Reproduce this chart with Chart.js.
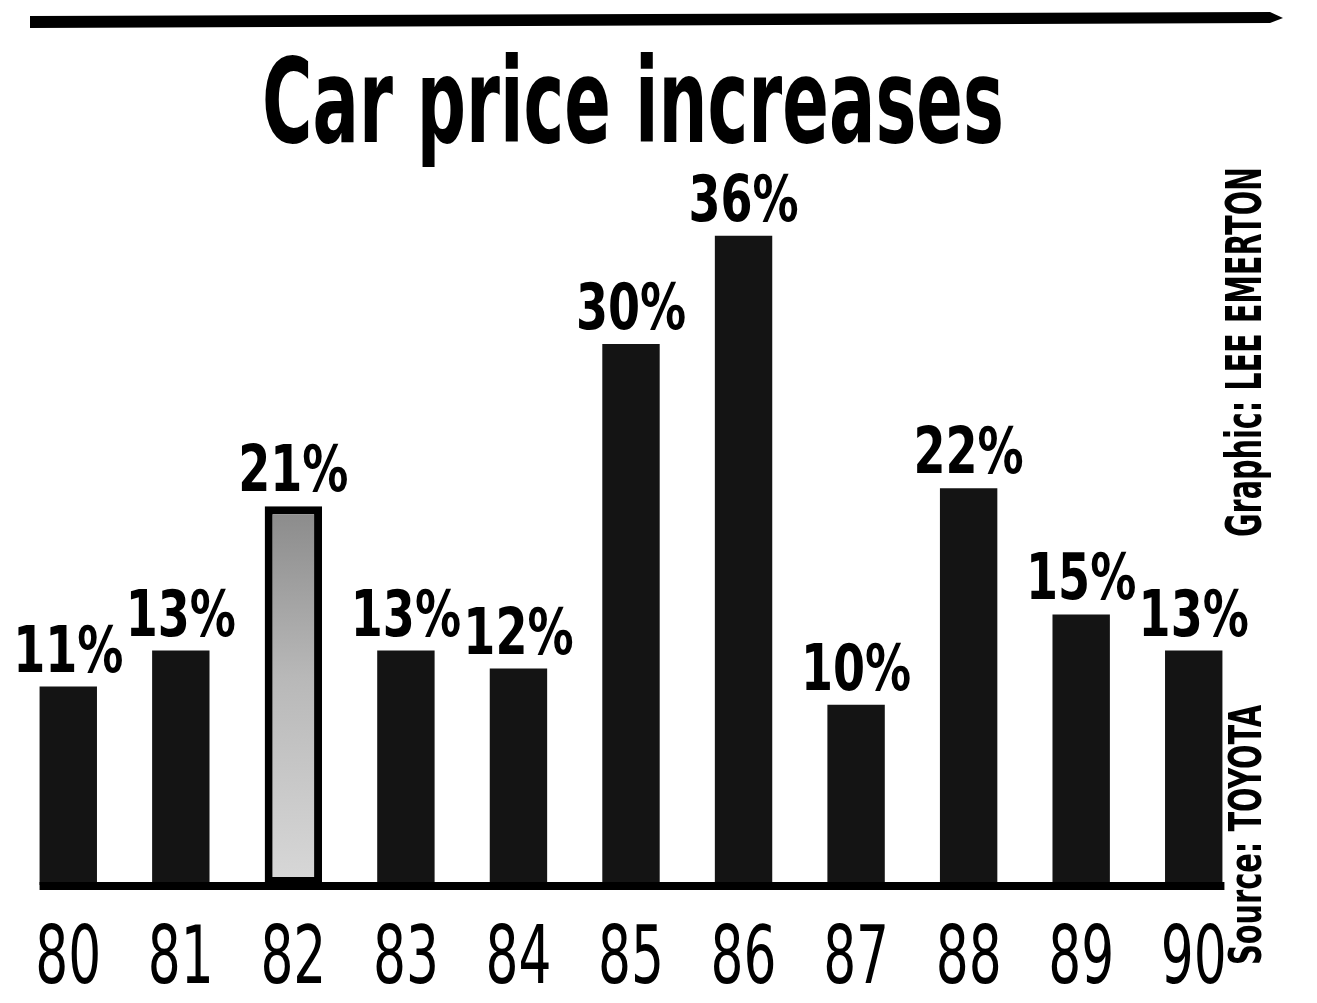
<!DOCTYPE html>
<html>
<head>
<meta charset="utf-8">
<title>Car price increases</title>
<script src="https://cdn.jsdelivr.net/npm/chart.js@4.4.1/dist/chart.umd.min.js"></script>
<style>
  html, body { margin: 0; padding: 0; background: #fff; }
  #wrap { width: 1317px; height: 1003px; position: relative; }
</style>
</head>
<body>
<div id="wrap"><canvas id="carChart"></canvas></div>
<script>
const years = ['80', '81', '82', '83', '84', '85', '86', '87', '88', '89', '90'];
const increases = [11, 13, 21, 13, 12, 30, 36, 10, 22, 15, 13];
const valueLabels = ['11%', '13%', '21%', '13%', '12%', '30%', '36%', '10%', '22%', '15%', '13%'];
const titleText = 'Car price increases';
const creditText = 'Graphic: LEE EMERTON';
const sourceText = 'Source: TOYOTA';

const NARROW = '"DejaVu Sans Condensed", "Liberation Sans Narrow", sans-serif';

// draws text squeezed horizontally by a factor (newsprint condensed type)
function squeeze(ctx, text, x, y, sx) {
    ctx.save();
    ctx.translate(x, y);
    ctx.scale(sx, 1);
    ctx.fillText(text, 0, 0);
    ctx.restore();
}

function fitText(ctx, text, x, y, width) {
    squeeze(ctx, text, x, y, width / ctx.measureText(text).width);
}

const decor = {
    id: 'decor',
    afterDraw(chart) {
        const ctx = chart.ctx;
        const bars = chart.getDatasetMeta(0).data;
        const xScale = chart.scales.x;
        const yScale = chart.scales.y;
        ctx.save();
        ctx.fillStyle = '#000';
        ctx.strokeStyle = '#000';

        // rule across the top
        ctx.beginPath();
        ctx.moveTo(30, 16);
        ctx.lineTo(1270, 12);
        ctx.lineTo(1283, 18);
        ctx.lineTo(1270, 23);
        ctx.lineTo(30, 28);
        ctx.closePath();
        ctx.fill();

        // title
        ctx.font = 'bold 117px ' + NARROW;
        ctx.textAlign = 'left';
        ctx.textBaseline = 'alphabetic';
        fitText(ctx, titleText, 262, 142, 742);

        // baseline under the bars
        const first = bars[0], last = bars[bars.length - 1];
        const y0 = yScale.getPixelForValue(0);
        ctx.lineWidth = 8;
        ctx.beginPath();
        ctx.moveTo(first.x - first.width / 2, y0 + 1);
        ctx.lineTo(last.x + last.width / 2 + 2, y0 + 1);
        ctx.stroke();

        // value labels above bars
        ctx.font = 'bold 64px ' + NARROW;
        ctx.textAlign = 'center';
        bars.forEach((bar, i) => {
            squeeze(ctx, valueLabels[i], bar.x, bar.y - 15, 0.8);
        });

        // year labels, at the x scale's tick positions
        ctx.font = '80px ' + NARROW;
        xScale.ticks.forEach((t, i) => {
            squeeze(ctx, xScale.getLabelForValue(t.value), xScale.getPixelForTick(i), 983, 0.72);
        });

        // vertical credits on the right
        ctx.textAlign = 'left';
        ctx.save();
        ctx.translate(1261, 537);
        ctx.rotate(-Math.PI / 2);
        ctx.font = 'bold 50px ' + NARROW;
        fitText(ctx, creditText, 0, 0, 370);
        ctx.restore();

        ctx.save();
        ctx.translate(1261, 965);
        ctx.rotate(-Math.PI / 2);
        ctx.font = 'bold 44px ' + NARROW;
        fitText(ctx, sourceText, 0, 0, 260);
        ctx.restore();

        ctx.restore();
    }
};

// the 82 bar is printed in a lighter screen, a bit darker near its top
function barColor(context) {
    if (years[context.dataIndex] !== '82') return '#141414';
    const { chartArea, scales } = context.chart;
    if (!chartArea) return '#cccccc';
    const top = scales.y.getPixelForValue(increases[context.dataIndex]);
    const g = context.chart.ctx.createLinearGradient(0, top, 0, chartArea.bottom);
    g.addColorStop(0, '#8a8a8a');
    g.addColorStop(0.45, '#b8b8b8');
    g.addColorStop(1, '#d8d8d8');
    return g;
}
const borderWidths = years.map(y => y === '82' ? 8 : 0);

const ctx = document.getElementById('carChart').getContext('2d');
window.carChart = new Chart(ctx, {
    type: 'bar',
    data: {
        labels: years,
        datasets: [{
            data: increases,
            backgroundColor: barColor,
            borderColor: '#000',
            borderWidth: borderWidths,
            borderSkipped: false,
            barPercentage: 0.51,
            categoryPercentage: 1.0
        }]
    },
    options: {
        responsive: true,
        maintainAspectRatio: false,
        animation: false,
        layout: { padding: { left: 12, right: 67, top: 160, bottom: 118 } },
        plugins: {
            legend: { display: false },
            tooltip: { enabled: false },
            title: { display: false }
        },
        scales: {
            x: {
                grid: { display: false, drawTicks: false },
                border: { display: false },
                ticks: { display: false }
            },
            y: { display: false, min: 0, max: 40.2 }
        }
    },
    plugins: [decor]
});
</script>
</body>
</html>
